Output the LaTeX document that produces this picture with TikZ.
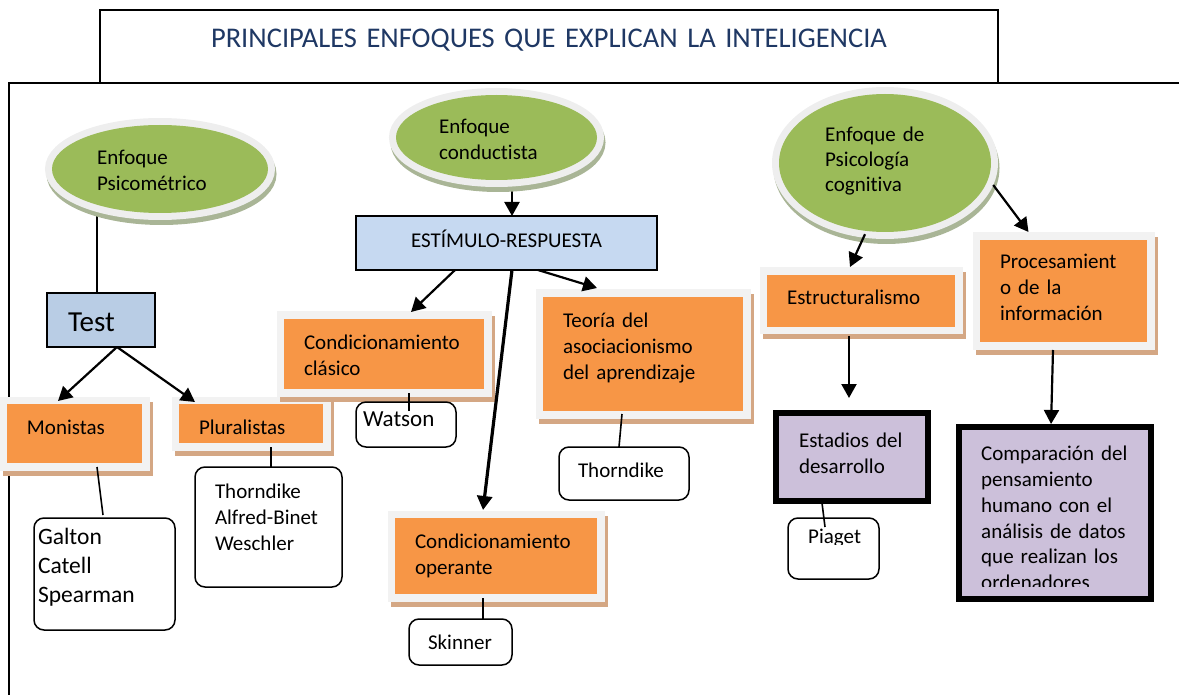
\documentclass[tikz,border=0pt]{standalone}
\usepackage{fontspec}
\setmainfont{Carlito}[Ligatures=NoCommon]
\usetikzlibrary{arrows.meta,calc,shapes.geometric}
\pgfdeclarelayer{bg}
\pgfsetlayers{bg,main}
\definecolor{titleblue}{HTML}{1F3864}
\definecolor{egreen}{HTML}{9BBB59}
\definecolor{rimgray}{HTML}{EEEEEE}
\definecolor{eshadow}{HTML}{A9B596}
\definecolor{orng}{HTML}{F79646}
\definecolor{frgray}{HTML}{F2F2F2}
\definecolor{shtan}{HTML}{D4A784}
\definecolor{lblue}{HTML}{B9CDE5}
\definecolor{lblue2}{HTML}{C6D9F1}
\definecolor{lilac}{HTML}{CCC0DA}
\tikzset{
  fnt/.style={font=\fontsize{21}{26}\selectfont},
  sz/.code n args={4}{%
    \pgfmathsetmacro\szw{#2-2*#1}%
    \pgfmathsetmacro\szd{#3-#4}%
    \edef\szx{\noexpand\tikzset{inner xsep=#1pt, text width=\szw pt, text height=#4pt, text depth=\szd pt}}\szx},
  boxbase/.style={fnt, anchor=north west, align=left, inner ysep=0pt, outer sep=0pt},
  obox/.style={boxbase, fill=orng,
    preaction={fill=shtan, draw=shtan, line width=15pt, transform canvas={shift={(3pt,-5pt)}}},
    preaction={draw=frgray, line width=15pt}},
  bbox/.style={boxbase, draw=black, line width=1.8pt, fill=lblue},
  wbox/.style={boxbase, draw=black, line width=1.5pt, rounded corners=10pt, fill=white},
  pbox/.style={boxbase, draw=black, line width=6pt, fill=lilac},
  ell/.style={ellipse, inner sep=0pt, fill=egreen,
    preaction={fill=eshadow, draw=eshadow, line width=14pt, transform canvas={shift={(1.5pt,-5pt)}}},
    preaction={draw=rimgray, line width=14pt}},
  etext/.style={fnt, anchor=base west, align=left, inner sep=0pt, text width=160pt},
  conn/.style={line width=1.6pt},
  arr/.style={line width=2.2pt, -{Triangle[width=15pt,length=14pt]}}
}
\begin{document}
\begin{tikzpicture}[x=1pt, y=-1pt]
\useasboundingbox (0,0) rectangle (1179,695);
% outer frame
\draw[line width=1.3pt] (9,695) -- (9,83) -- (1179,83);
% title
\node[boxbase, draw=black, line width=1.3pt, fill=white, align=center, text=titleblue,
      font=\fontsize{28.5}{34}\selectfont, sz={10}{898}{73}{38}] (title) at (100,10)
      {PRINCIPALES ENFOQUES QUE EXPLICAN LA INTELIGENCIA};

% ellipses
\node[ell, minimum width=216pt, minimum height=88pt] (e1) at (160,169) {};
\node[etext] (e1t) at (97,165) {Enfoque\\Psicométrico};
\node[ell, minimum width=201pt, minimum height=85pt] (e2) at (496.5,137.5) {};
\node[etext] (e2t) at (439,134) {Enfoque\\conductista};
\node[ell, minimum width=212pt, minimum height=138pt] (e3) at (885,163) {};
\node[etext, font=\fontsize{21}{25}\selectfont] (e3t) at (825,142) {Enfoque~de\\Psicología\\cognitiva};

% blue boxes
\node[bbox, font=\fontsize{29}{35}\selectfont, sz={21}{108}{54}{38}] (test) at (47,293) {Test};
\node[bbox, fill=lblue2, align=center, sz={10}{301}{54}{32}] (estim) at (356,216) {ESTÍMULO-RESPUESTA};

% orange boxes
\node[obox, sz={20}{135}{59}{30}] (mon) at (7,404) {Monistas};
\node[obox, sz={20}{144}{39}{30}] (plu) at (179,404) {Pluralistas};
\node[obox, sz={20}{200}{70}{30}] (clas) at (284,319) {Condicionamiento\\clásico};
\node[obox, sz={20}{200}{114}{30}] (teo) at (543,297) {Teoría~del\\asociacionismo\\del~aprendizaje};
\node[obox, sz={20}{202}{76}{30}] (oper) at (395,518) {Condicionamiento\\operante};
\node[obox, sz={20}{188}{52}{30}] (estr) at (767,275) {Estructuralismo};
\node[obox, sz={20}{167}{102}{29}] (proc) at (980,240) {Procesamient\\o~de~la\\información};

% purple boxes
\node[pbox, sz={23}{152}{88}{34}] (estad) at (776,413) {Estadios~del\\desarrollo};
\node[pbox, minimum width=192pt, minimum height=172pt, inner sep=0pt] (comp) at (959,427) {};
\begin{scope}
  \clip (962,430) rectangle (1148,586);
  \node[etext] (compt) at (981,460) {Comparación~del\\pensamiento\\humano~con~el\\análisis~de~datos\\que~realizan~los\\ordenadores};
\end{scope}

% white rounded boxes
\node[wbox, font=\fontsize{23.5}{29}\selectfont, sz={4}{141}{112}{26}] (galton) at (34,518) {Galton\\Catell\\Spearman};
\node[wbox, sz={20}{147}{120}{31}] (thx) at (195,467) {Thorndike\\Alfred-Binet\\Weschler};
\node[wbox, font=\fontsize{23}{28}\selectfont, sz={7}{100}{45}{24}] (watson) at (356,402) {Watson};
\node[wbox, sz={19}{130}{53}{30}] (thor2) at (559,447) {Thorndike};
\node[wbox, sz={19}{103}{46}{30}] (skin) at (409,619) {Skinner};
\node[wbox, minimum width=91pt, minimum height=61pt, inner sep=0pt] (piag) at (788,518) {};
\begin{scope}
  \clip (788,518) rectangle (879,544);
  \node[fnt, anchor=base west, inner sep=0pt] (piagt) at (808,543) {Piaget};
\end{scope}

% connectors behind ellipses
\begin{pgfonlayer}{bg}
  \coordinate (ta) at ($(test.north)+(-4,0)$);
  \draw[conn] (ta) -- (ta |- e1.south);
  \coordinate (eb) at ($(estim.north)+(5.5,0)$);
  \draw[arr] (eb |- e2.south) -- (eb);
\end{pgfonlayer}

% connectors
\draw[arr] ($(test.south)+(16,0)$) -- ($(mon.north)+(-16.5,-3)$);
\draw[arr] ($(test.south)+(16,0)$) -- ($(plu.north)+(-56,-2)$);
\draw[arr] ($(estim.south)+(-51.5,0)$) -- ($(clas.north)+(27,-7)$);
\draw[arr, line width=3.2pt] ($(estim.south)+(5.5,0)$) -- ($(oper.north)+(-13,-8)$);
\draw[arr] ($(estim.south)+(31.5,0)$) -- ($(teo.north)+(-46,-9)$);
\draw[conn] ($(mon.south)+(22.5,4)$) -- ($(galton.north)+(-1.5,-3)$);
\coordinate (pt) at ($(thx.north)+(2.5,0)$);
\draw[conn] (pt) -- ($(pt |- plu.south)+(0,4)$);
\coordinate (wt) at ($(watson.north)+(3,9)$);
\draw[conn] (wt) -- ($(wt |- clas.south)+(0,4)$);
\draw[conn] ($(teo.south)+(-21,3)$) -- ($(thor2.north)+(-5,0)$);
\coordinate (sk) at ($(skin.north)+(22.5,0)$);
\draw[conn] (sk) -- ($(sk |- oper.south)+(0,4)$);
\draw[arr] ($(e3.south)+(-20,2)$) -- ($(estr.north)+(-11,-8)$);
\draw[arr] ($(e3.east)+(2,22)$) -- ($(proc.north)+(-35,-8)$);
\coordinate (es) at ($(estr.south)+(-12,0)$);
\draw[arr, shorten >=15pt] ($(es)+(0,9)$) -- (es |- estad.north);
\coordinate (pc) at ($(comp.north)+(-4,0)$);
\draw[arr, shorten >=3pt] ($(pc |- proc.south)+(2,8)$) -- (pc);
\draw[conn] ($(estad.south)+(-30,2)$) -- ($(piag.north)+(-8.5,9)$);
\end{tikzpicture}
\end{document}
